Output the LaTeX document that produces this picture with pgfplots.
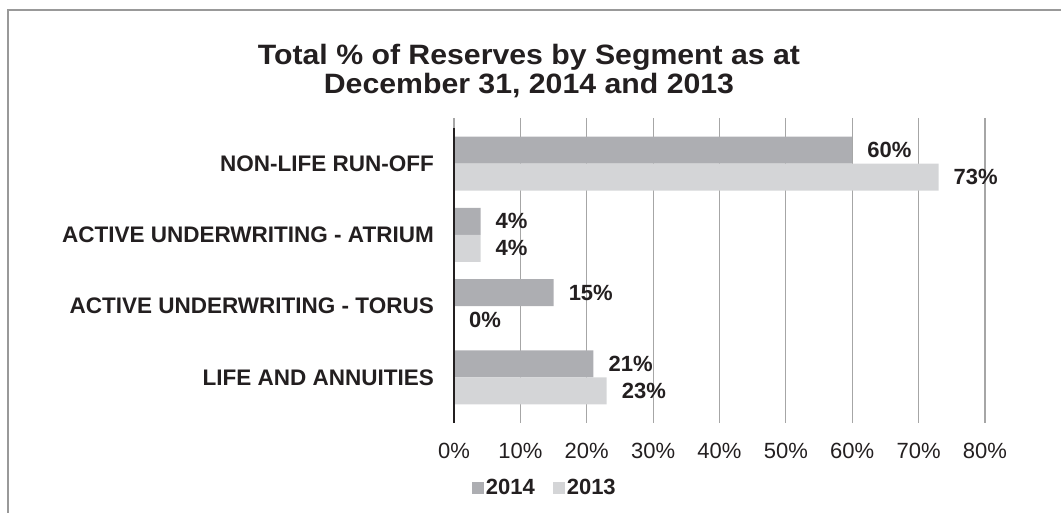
\documentclass[border=0pt]{standalone}
\usepackage{fontspec}
\setmainfont{Liberation Sans}
\newfontfamily\titlefont[FakeStretch=1.08]{Liberation Sans}
\usepackage{pgfplots}
\pgfplotsset{compat=1.18}
\definecolor{cA}{HTML}{ADAEB2}
\definecolor{cB}{HTML}{D4D5D7}
\definecolor{gridc}{HTML}{A6A6A6}
\definecolor{txt}{HTML}{231F20}
\definecolor{framec}{HTML}{999999}
\begin{document}
\begin{tikzpicture}[x=1pt,y=1pt]
\useasboundingbox (0,0) rectangle (1061,513);
\draw[framec, line width=2pt] (7.5,-2) -- (7.5,502.5) -- (1063,502.5);
\node[anchor=base, font=\titlefont\bfseries\fontsize{28}{31}\selectfont, text=txt, inner sep=0pt] at (529,448) {Total \% of Reserves by Segment as at};
\node[anchor=base, font=\titlefont\bfseries\fontsize{28}{31}\selectfont, text=txt, inner sep=0pt] at (529,419) {December 31, 2014 and 2013};
\begin{axis}[
  at={(454pt,100pt)}, anchor=south west,
  scale only axis, width=531pt, height=285pt,
  xbar, bar width=27pt,
  xmin=0, xmax=80, ymin=-0.5, ymax=3.5,
  xtick={0,10,...,80},
  xticklabels={0\%,10\%,20\%,30\%,40\%,50\%,60\%,70\%,80\%},
  ytick={0,1,2,3},
  yticklabels={LIFE AND ANNUITIES, ACTIVE UNDERWRITING - TORUS, ACTIVE UNDERWRITING - ATRIUM, NON-LIFE RUN-OFF},
  axis line style={draw=none},
  xmajorgrids, grid style={gridc, line width=1.2pt},
  tick align=outside, major tick length=10pt,
  xtick style={gridc, line width=1.2pt},
  ytick style={draw=none},
  xticklabel style={font=\fontsize{22}{22}\selectfont, text=txt, anchor=base, inner sep=0pt, yshift=-35.5pt},
  yticklabel style={font=\bfseries\fontsize{22.5}{22.5}\selectfont, text=txt, anchor=east, inner sep=0pt, xshift=-10pt},
  point meta=x,
  nodes near coords={\pgfmathprintnumber[assume math mode=true]{\pgfplotspointmeta}\%},
  every node near coord/.append style={font=\bfseries\fontsize{22}{22}\selectfont, text=txt, anchor=west, inner sep=0pt, xshift=15pt},
  legend columns=2,
  legend style={at={(0.171,-0.263)}, anchor=center, draw=none, fill=none, font=\bfseries\fontsize{22}{22}\selectfont, text=txt, /tikz/every even column/.append style={column sep=16pt}},
  legend image code/.code={\fill[#1] (0pt,-6pt) rectangle (12pt,6pt);},
  clip=false,
]
\addplot[fill=cA, draw=none, bar shift=13.5pt] coordinates {(60,3) (4,2) (15,1) (21,0)};
\addplot[fill=cB, draw=none, bar shift=-13.5pt] coordinates {(73,3) (4,2) (0,1) (23,0)};
\legend{2014,2013}
\draw[txt, line width=2pt] (axis cs:0,3.5) -- ([yshift=-10pt]axis cs:0,-0.5);
\end{axis}
\end{tikzpicture}
\end{document}
